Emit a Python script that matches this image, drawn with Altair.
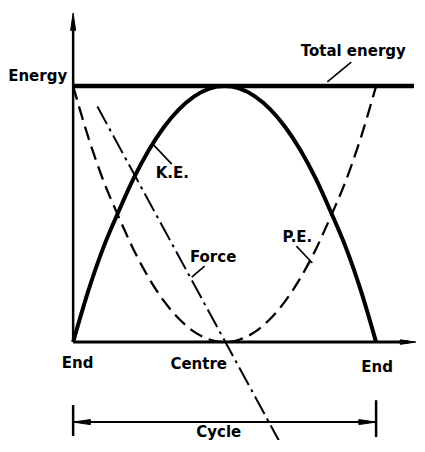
import altair as alt
import pandas as pd

# displacement positions (End = -1, Centre = 0, End = +1)
pos = [-1.0, -0.9, -0.8, -0.7, -0.6, -0.5, -0.4, -0.3, -0.2, -0.1, 0.0,
       0.1, 0.2, 0.3, 0.4, 0.5, 0.6, 0.7, 0.8, 0.9, 1.0]
ke = [0.0, 0.20, 0.37, 0.51, 0.64, 0.75, 0.84, 0.91, 0.96, 0.99, 1.0,
      0.99, 0.96, 0.91, 0.84, 0.75, 0.64, 0.51, 0.37, 0.20, 0.0]
pe = [1.0, 0.80, 0.63, 0.49, 0.36, 0.25, 0.16, 0.09, 0.04, 0.01, 0.0,
      0.01, 0.04, 0.09, 0.16, 0.25, 0.36, 0.49, 0.63, 0.80, 1.0]

total_energy = 1.0
total_x = [-1.0, 1.25]
force_x = [-0.84, 0.40]
force_y = [0.92, -0.43]

# axes (data units)
axis_x0, axis_x1 = -1.0, 1.262
axis_y1 = 1.285
cycle_y = -0.3125
cycle_tick_left = [-0.227, -0.367]
cycle_tick_right = [-0.246, -0.371]

# leader lines for labels: x, y, x2, y2
leader_x = [0.836, -0.48, -0.132, 0.474]
leader_y = [1.094, 0.777, 0.297, 0.375]
leader_x2 = [0.678, -0.349, -0.217, 0.579]
leader_y2 = [1.016, 0.695, 0.254, 0.309]

label_text = ["Energy", "Total energy", "K.E.", "Force", "P.E.", "End", "Centre", "End", "Cycle"]
label_x = [-1.234, 0.849, -0.345, -0.076, 0.480, -0.970, -0.171, 1.007, -0.039]
label_y = [1.0195, 1.117, 0.641, 0.3125, 0.39, -0.1016, -0.105, -0.117, -0.371]

XS = alt.Scale(domain=[-1.43, 1.27])
YS = alt.Scale(domain=[-0.3825, 1.305])

def X(f="x"):
    return alt.X(f + ":Q", scale=XS, axis=None)

def Y(f="y"):
    return alt.Y(f + ":Q", scale=YS, axis=None)

curves = pd.DataFrame({"x": pos, "ke": ke, "pe": pe})

ke_line = alt.Chart(curves).mark_line(color="black", strokeWidth=4, interpolate="monotone").encode(
    x=X(), y=alt.Y("ke:Q", scale=YS, axis=None))
pe_line = alt.Chart(curves).mark_line(color="black", strokeWidth=2.3, strokeDash=[14, 7],
                                      interpolate="monotone").encode(
    x=X(), y=alt.Y("pe:Q", scale=YS, axis=None))

solid = pd.DataFrame({
    "x": [axis_x0, axis_x0, total_x[0], -1.0, 1.0, -1.0, 1.0],
    "y": [0.0, 0.0, total_energy, cycle_y, cycle_tick_left[0], cycle_tick_right[0], cycle_y],
    "x2": [axis_x1 - 0.05, axis_x0, total_x[1], 1.0, 1.0, -1.0, 1.0],
    "y2": [0.0, axis_y1 - 0.05, total_energy, cycle_y, cycle_tick_right[1], cycle_tick_left[1], cycle_y],
    "w": [3, 2.5, 4.5, 2, 2.5, 2.5, 2],
})
rules = alt.Chart(solid).mark_rule(color="black").encode(
    x=X(), y=Y(), x2="x2:Q", y2="y2:Q", strokeWidth=alt.StrokeWidth("w:Q", scale=None))

leaders = alt.Chart(pd.DataFrame({"x": leader_x, "y": leader_y, "x2": leader_x2, "y2": leader_y2})
                    ).mark_rule(color="black", strokeWidth=1.6).encode(
    x=X(), y=Y(), x2="x2:Q", y2="y2:Q")

force = alt.Chart(pd.DataFrame({"x": [force_x[0]], "y": [force_y[0]],
                                "x2": [force_x[1]], "y2": [force_y[1]]})
                  ).mark_rule(color="black", strokeWidth=2, strokeDash=[20, 5, 3, 5]).encode(
    x=X(), y=Y(), x2="x2:Q", y2="y2:Q")


def head(xv, yv, ang, size):
    return alt.Chart(pd.DataFrame({"x": [xv], "y": [yv]})).mark_point(
        shape="wedge", angle=ang, filled=True, fill="black", stroke="black",
        strokeWidth=1, fillOpacity=1, size=size).encode(x=X(), y=Y())


# arrow heads: wedge centre placed 1.155*r px back from the tip
heads = [
    head(axis_x0, axis_y1 - 11.5 / 256, 0, 400),
    head(axis_x1 - 10.4 / 152, 0.0, 90, 324),
    head(-1.0 + 11.5 / 152, cycle_y, 270, 400),
    head(1.0 - 11.5 / 152, cycle_y, 90, 400),
]

labels = alt.Chart(pd.DataFrame({"x": label_x, "y": label_y, "t": label_text})).mark_text(
    font="DejaVu Sans", fontWeight="bold", fontSize=15, color="black",
    align="center", baseline="alphabetic").encode(x=X(), y=Y(), text="t:N")

chart = alt.layer(rules, force, pe_line, ke_line, leaders, *heads, labels).properties(
    width=409, height=432,
    autosize=alt.AutoSizeParams(type="none"),
    padding={"left": 0, "top": 0, "right": 0, "bottom": 0},
).configure_view(stroke=None)

chart.save("out.html", embed_options={"renderer": "svg", "actions": False})
